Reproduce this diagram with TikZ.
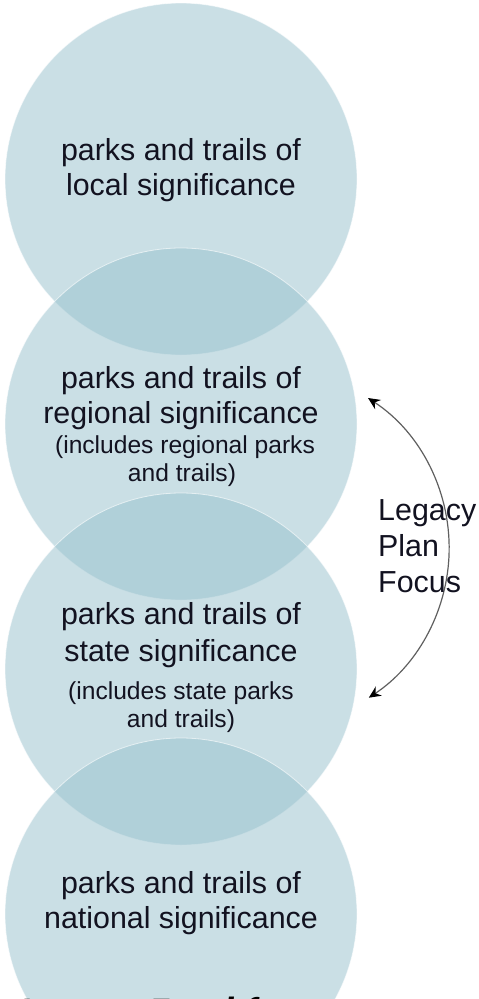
\documentclass[tikz,border=0pt]{standalone}
\usepackage{fontspec}
\setmainfont{Liberation Sans}
\newfontfamily\titlefont{Carlito}
\usetikzlibrary{arrows.meta}
\definecolor{circfill}{RGB}{150,192,204}
\definecolor{txt}{RGB}{18,18,32}
\definecolor{arcgray}{RGB}{95,95,95}
\begin{document}
\begin{tikzpicture}[x=1pt,y=1pt,
  >={Stealth[length=12pt,width=11pt,inset=4pt,color=black]},
  zone/.style={circle, minimum size=352pt, inner sep=0pt, fill=circfill, fill opacity=0.5, draw=white, draw opacity=0.6, line width=0.8pt},
  big/.style={anchor=base, inner sep=0pt, text=txt, font=\fontsize{30.4}{35}\selectfont},
  small/.style={anchor=base, inner sep=0pt, text=txt, font=\fontsize{24.6}{28}\selectfont},
  focus/.style={big, anchor=base west},
]
\path[use as bounding box] (0,0) rectangle (479,-999);
\clip (0,0) rectangle (479,-999);
\node[zone] (c1) at (181,-179) {};
\node[zone] (c2) at (181,-424) {};
\node[zone] (c3) at (181,-669) {};
\node[zone] (c4) at (181,-914) {};

\node[big] (t1a) at (181,-160) {parks and trails of};
\node[big] (t1b) at (181,-195) {local significance};

\node[big] (t2a) at (181,-388) {parks and trails of};
\node[big] (t2b) at (181,-423) {regional significance};
\node[small] (t2c) at (185,-453) {(includes regional parks};
\node[small] (t2d) at (182,-481) {and trails)};

\node[big] (t3a) at (181,-624) {parks and trails of};
\node[big] (t3b) at (181,-661) {state significance};
\node[small] (t3c) at (181,-699) {(includes state parks};
\node[small] (t3d) at (181,-727) {and trails)};

\node[big] (t4a) at (181,-893) {parks and trails of};
\node[big] (t4b) at (181,-928) {national significance};

\coordinate (atop) at (368,-398);
\draw[arcgray, line width=1.2pt, <->] (atop) arc[start angle=56.8, end angle=-56.5, radius=179.4];

\node[focus] (f1) at (378,-520) {Legacy};
\node[focus] (f2) at (378,-556) {Plan};
\node[focus] (f3) at (378,-592) {Focus};

\node[anchor=base west, inner sep=0pt, text=black, font=\titlefont\bfseries\itshape\fontsize{42}{48}\selectfont] (ttl) at (20,-1026) {Legacy Fund for};
\end{tikzpicture}
\end{document}
